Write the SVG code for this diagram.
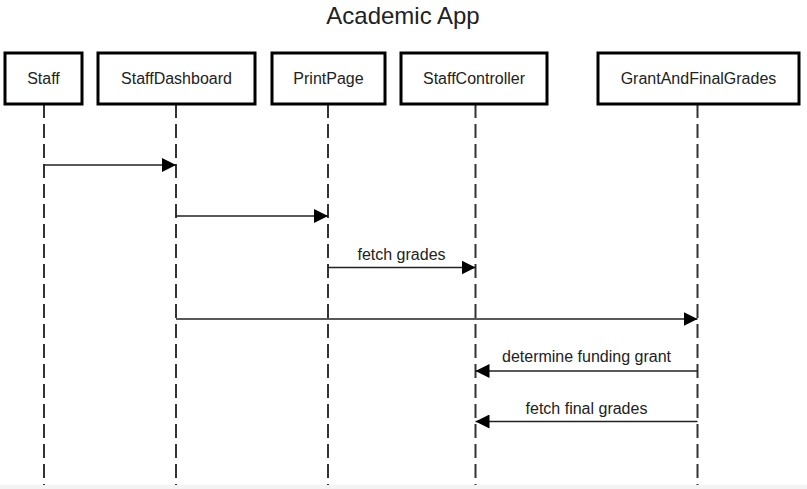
<svg xmlns="http://www.w3.org/2000/svg" width="807" height="489" viewBox="0 0 807 489">
<defs>
<style>
.box{fill:#fff;stroke:#000;stroke-width:3}
.lbl{font-family:"Liberation Sans",Arial,sans-serif;font-size:16px;fill:#222;text-anchor:middle}
.life{stroke:#333;stroke-width:2;stroke-dasharray:14 6;fill:none}
.msg{stroke:#222;stroke-width:1.5;fill:none}
.title{font-family:"Liberation Sans",Arial,sans-serif;font-size:24px;fill:#222;text-anchor:middle}
</style>
<marker id="arr" viewBox="0 0 14 14" markerWidth="14" markerHeight="14" refX="14" refY="7" orient="auto" markerUnits="userSpaceOnUse">
<path d="M0,0 L14,7 L0,14 Z" fill="#000"/>
</marker>
</defs>
<rect x="0" y="0" width="807" height="489" fill="#fff"/>
<rect x="0" y="485" width="807" height="4" fill="#f3f3f3"/>
<text class="title" x="403" y="24">Academic App</text>
<g id="lifelines">
<line class="life" x1="44" y1="104" x2="44" y2="485"/>
<line class="life" x1="176" y1="104" x2="176" y2="485"/>
<line class="life" x1="328" y1="104" x2="328" y2="485"/>
<line class="life" x1="475.5" y1="104" x2="475.5" y2="485"/>
<line class="life" x1="697.5" y1="104" x2="697.5" y2="485"/>
</g>
<g id="node-staff"><rect class="box" x="5" y="53" width="77" height="51"/><text class="lbl" x="43.5" y="84">Staff</text></g>
<g id="node-staffdashboard"><rect class="box" x="98" y="53" width="157" height="51"/><text class="lbl" x="176.5" y="84">StaffDashboard</text></g>
<g id="node-printpage"><rect class="box" x="272" y="53" width="113" height="51"/><text class="lbl" x="328.5" y="84">PrintPage</text></g>
<g id="node-staffcontroller"><rect class="box" x="401" y="53" width="146" height="51"/><text class="lbl" x="474" y="84">StaffController</text></g>
<g id="node-grantandfinalgrades"><rect class="box" x="598" y="53" width="201" height="51"/><text class="lbl" x="698.5" y="84">GrantAndFinalGrades</text></g>
<g id="connectors">
<line class="msg" x1="44" y1="165" x2="176" y2="165" marker-end="url(#arr)"/>
<line class="msg" x1="176" y1="216" x2="328" y2="216" marker-end="url(#arr)"/>
<line class="msg" x1="328" y1="267.5" x2="475.5" y2="267.5" marker-end="url(#arr)"/>
<text class="lbl" x="401.5" y="260">fetch grades</text>
<line class="msg" x1="176" y1="319" x2="697.5" y2="319" marker-end="url(#arr)"/>
<line class="msg" x1="697.5" y1="371" x2="475.5" y2="371" marker-end="url(#arr)"/>
<text class="lbl" x="586.5" y="362">determine funding grant</text>
<line class="msg" x1="697.5" y1="421.5" x2="475.5" y2="421.5" marker-end="url(#arr)"/>
<text class="lbl" x="586.5" y="414">fetch final grades</text>
</g>
</svg>
